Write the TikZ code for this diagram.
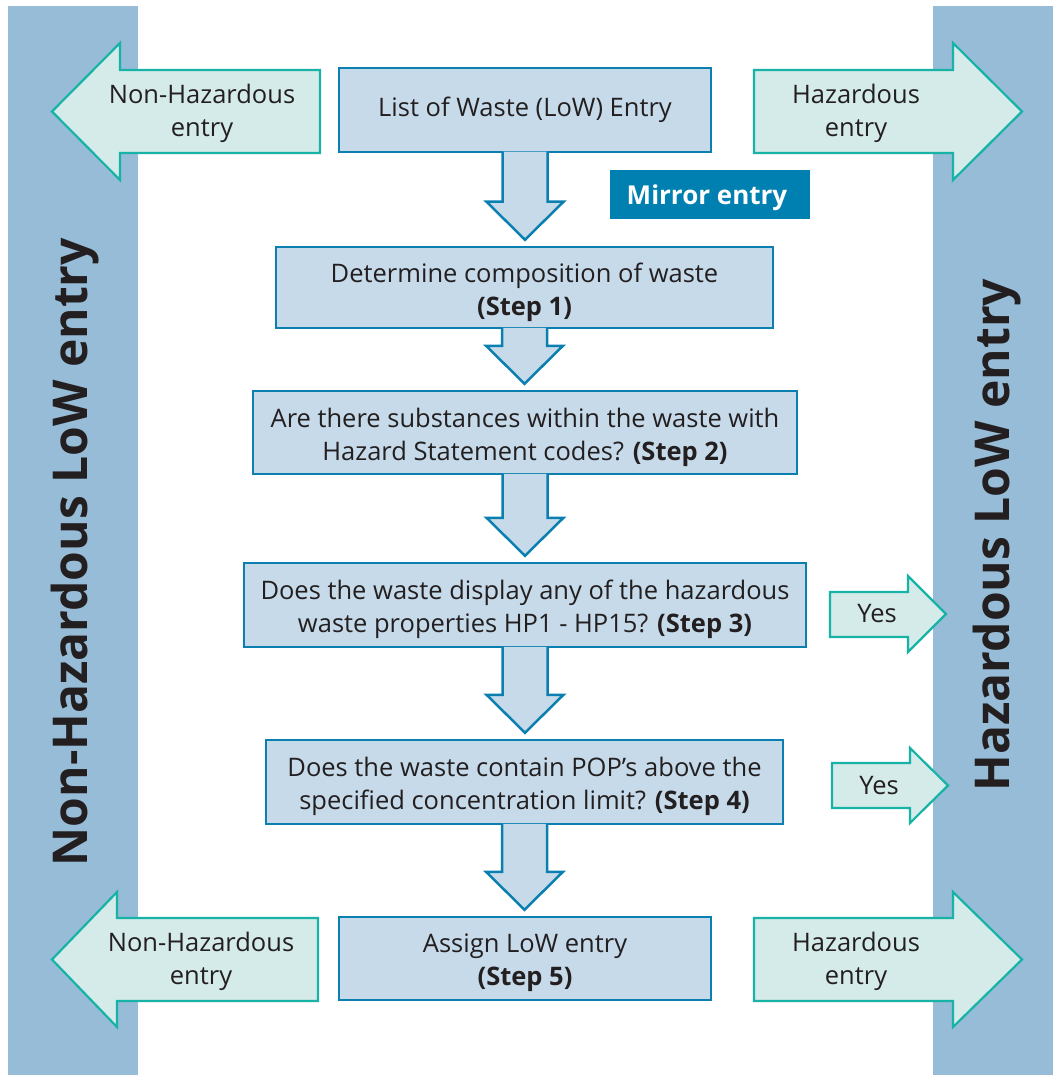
\documentclass[tikz,border=0pt]{standalone}
\usepackage{fontspec}
\setmainfont{Open Sans}
\usetikzlibrary{calc}
\definecolor{barblue}{HTML}{97BCD7}
\definecolor{boxfill}{HTML}{C6DAEA}
\definecolor{boxline}{HTML}{0A7FB0}
\definecolor{tealfill}{HTML}{D5EBE9}
\definecolor{tealline}{HTML}{16B3A6}
\definecolor{mirrorblue}{HTML}{0080B0}
\definecolor{txt}{HTML}{231F20}
\tikzset{
  flowbox/.style={draw=boxline, fill=boxfill, line width=2.5pt, inner sep=0pt},
  flowtext/.style={align=center, font=\fontsize{25.5}{33}\selectfont, text=txt, inner sep=0pt, yshift=-4.5pt},
  dnarrow/.style={draw=boxline, fill=boxfill, line width=2.5pt, line join=miter},
  sidearrow/.style={draw=tealline, fill=tealfill, line width=2.2pt, line join=miter},
  sidetext/.style={align=center, font=\fontsize{25.5}{33}\selectfont, text=txt, inner sep=0pt},
  bartitle/.style={rotate=90, anchor=base, font=\bfseries\fontsize{48}{48}\selectfont, text=txt, inner sep=0pt},
}
\newcommand{\flowdown}[2]{%
  \draw[dnarrow] let \p1=(#1.south), \p2=(#2.north) in
    (\x1-22.5pt,\y1+1.5pt) -- (\x1-22.5pt,\y2+44pt) -- (\x1-38.5pt,\y2+44pt) --
    (\x1,\y2+6pt) -- (\x1+38.5pt,\y2+44pt) -- (\x1+22.5pt,\y2+44pt) -- (\x1+22.5pt,\y1+1.5pt);}
\begin{document}
\begin{tikzpicture}[x=1pt,y=-1pt]
\useasboundingbox (0,0) rectangle (1055,1075);
% side bars
\fill[barblue] (8,6) rectangle (138,1075);
\fill[barblue] (933,6) rectangle (1053,1075);
\node[bartitle] (lefttitle) at (87,552) {Non-Hazardous LoW entry};
\node[bartitle] (righttitle) at (1009,535) {Hazardous LoW entry};

% flow boxes
\node[flowbox, minimum width=372pt, minimum height=84pt,
  label={[flowtext, yshift=4.5pt]center:List of Waste (LoW) Entry}] (low) at (525,110) {};
\node[flowbox, minimum width=497pt, minimum height=81pt,
  label={[flowtext]center:Determine composition of waste\\\textbf{(Step 1)}}] (s1) at (524.5,287.5) {};
\node[flowbox, minimum width=544pt, minimum height=83pt,
  label={[flowtext]center:Are there substances within the waste with\\Hazard Statement codes? \textbf{(Step 2)}}] (s2) at (525,432.5) {};
\node[flowbox, minimum width=562pt, minimum height=84pt,
  label={[flowtext]center:Does the waste display any of the hazardous\\waste properties HP1 - HP15? \textbf{(Step 3)}}] (s3) at (525,605) {};
\node[flowbox, minimum width=517pt, minimum height=84pt,
  label={[flowtext]center:Does the waste contain POP’s above the\\specified concentration limit? \textbf{(Step 4)}}] (s4) at (524.5,782) {};
\node[flowbox, minimum width=372pt, minimum height=83pt,
  label={[flowtext]center:Assign LoW entry\\\textbf{(Step 5)}}] (s5) at (525,958.5) {};

% down arrows
\flowdown{low}{s1}
\flowdown{s1}{s2}
\flowdown{s2}{s3}
\flowdown{s3}{s4}
\flowdown{s4}{s5}

% mirror entry
\fill[mirrorblue] (610,170) rectangle (810,219);
\node[text=white, font=\bfseries\fontsize{26}{30}\selectfont, inner sep=0pt] (mirror) at (707,198) {Mirror entry};

% side arrows top
\draw[sidearrow] (320,70) -- (120,70) -- (120,43) -- (52,111.5) -- (120,180) -- (120,153) -- (320,153) -- cycle;
\node[sidetext] (nhtop) at (202,113.5) {Non-Hazardous\\entry};
\draw[sidearrow] (754,70) -- (953,70) -- (953,43) -- (1022,111.5) -- (953,180) -- (953,153) -- (754,153) -- cycle;
\node[sidetext] (htop) at (856,113.5) {Hazardous\\entry};

% side arrows bottom
\draw[sidearrow] (318,918) -- (117,918) -- (117,892) -- (52,959.5) -- (117,1027) -- (117,1001) -- (318,1001) -- cycle;
\node[sidetext] (nhbot) at (201,961.5) {Non-Hazardous\\entry};
\draw[sidearrow] (754,918) -- (953,918) -- (953,892) -- (1022,959.5) -- (953,1027) -- (953,1001) -- (754,1001) -- cycle;
\node[sidetext] (hbot) at (856,961.5) {Hazardous\\entry};

% yes arrows
\draw[sidearrow] (830,592) -- (908,592) -- (908,576) -- (946,614) -- (908,652) -- (908,637) -- (830,637) -- cycle;
\node[sidetext] (yes1) at (877,614) {Yes};
\draw[sidearrow] (832,763) -- (910,763) -- (910,748) -- (948,785.5) -- (910,823) -- (910,808) -- (832,808) -- cycle;
\node[sidetext] (yes2) at (879,786) {Yes};
\end{tikzpicture}
\end{document}
